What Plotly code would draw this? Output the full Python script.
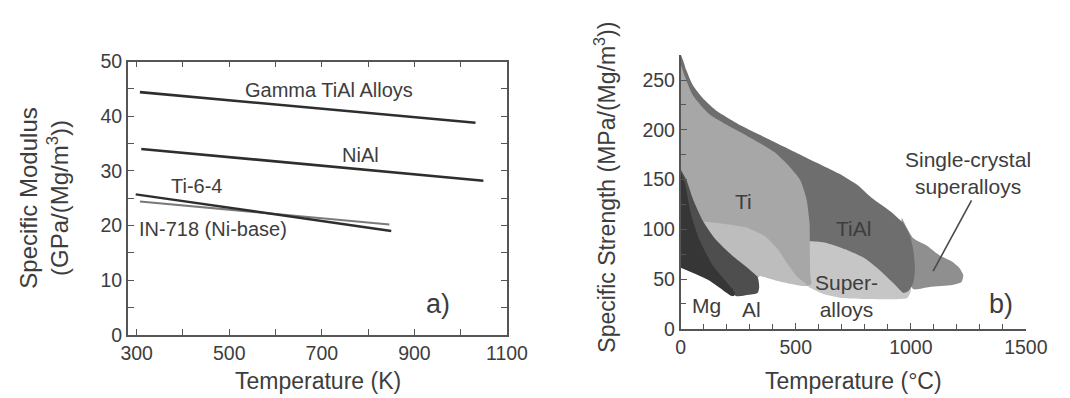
import plotly.graph_objects as go

# ---------------- Panel a data ----------------
temp_gamma = [307, 1032]
mod_gamma = [44.4, 38.8]
temp_nial = [310, 1049]
mod_nial = [34.0, 28.2]
temp_ti64 = [298, 850]
mod_ti64 = [25.7, 19.0]
temp_in718 = [307, 846]
mod_in718 = [24.4, 20.2]

a_xticks = [300, 500, 700, 900, 1100]
a_yticks = [0, 10, 20, 30, 40, 50]

# ---------------- Panel b data (region outlines, °C vs MPa/(Mg/m3)) ----------------
sx_x = [960, 1011, 1067, 1124, 1180, 1212, 1228, 1220, 1180, 1081, 1011, 960]
sx_y = [112, 91, 84, 74, 67.5, 61, 54, 47, 44, 42, 40, 60]

sup_x = [555, 850, 990, 1000, 985, 960, 800, 700, 620, 555]
sup_y = [95, 95, 70, 38, 31, 30, 30, 31, 35, 42]

tial_x = [0, 10, 24, 52, 95, 151, 264, 405, 546, 687, 771, 828, 912, 968, 997, 1011,
          1018, 1010, 990, 968, 926, 870, 799, 715, 630, 567, 300, 0, 0]
tial_y = [275, 270, 260, 245, 232, 220, 204, 188, 172, 156, 144, 132, 118, 106, 93, 79,
          60, 46, 38, 36, 45.5, 58, 71, 80, 86.6, 88, 95, 95, 275]

ti_x = [0, 17, 52, 123, 264, 405, 461, 518, 546, 560, 561, 563, 567, 549, 480, 422,
        345, 300, 200, 0, 0]
ti_y = [265, 254, 235, 216, 197, 178, 166, 150, 131, 106, 77, 55, 45, 43, 46, 49,
        53, 45, 50, 70, 265]

lite_x = [90, 141, 282, 366, 422, 465, 507, 549, 535, 480, 422, 345, 250, 100]
lite_y = [108, 107, 102, 93, 80, 65, 52, 44, 43, 45, 48, 53, 55, 80]

al_x = [0, 24, 52, 95, 151, 222, 292, 334, 341, 334, 290, 240, 150, 0]
al_y = [160, 150, 131, 109, 90, 74, 61, 52, 42, 36, 34, 33, 50, 70]

mg_x = [0, 17, 45, 80, 137, 193, 236, 230, 222, 123, 0]
mg_y = [157, 147, 115, 90, 64.5, 48.7, 36, 33, 33, 48.7, 61.4]

pointer_x = [1264, 1097]
pointer_y = [129, 58]

b_xticks = [0, 500, 1000, 1500]
b_yticks = [0, 50, 100, 150, 200, 250]

FONT = "Liberation Sans, Arial, sans-serif"
TXT = "#3d3d3d"
AX = "#555555"

fig = go.Figure()

# panel a lines
fig.add_trace(go.Scatter(x=temp_gamma, y=mod_gamma, mode="lines",
                         line=dict(color="#2e2e2e", width=2.6), xaxis="x", yaxis="y"))
fig.add_trace(go.Scatter(x=temp_nial, y=mod_nial, mode="lines",
                         line=dict(color="#2e2e2e", width=2.6), xaxis="x", yaxis="y"))
fig.add_trace(go.Scatter(x=temp_in718, y=mod_in718, mode="lines",
                         line=dict(color="#7a7a7a", width=2.0), xaxis="x", yaxis="y"))
fig.add_trace(go.Scatter(x=temp_ti64, y=mod_ti64, mode="lines",
                         line=dict(color="#2e2e2e", width=2.4), xaxis="x", yaxis="y"))

# panel b regions
def region(xs, ys, color, smooth=0.6):
    fig.add_trace(go.Scatter(x=xs, y=ys, mode="lines", fill="toself", fillcolor=color,
                             line=dict(width=0, color=color, shape="spline", smoothing=smooth),
                             xaxis="x2", yaxis="y2", hoverinfo="skip"))

region(sx_x, sx_y, "#8f8f8f")
region(sup_x, sup_y, "#c6c6c6", 0.5)
region(tial_x, tial_y, "#6e6e6e")
region(ti_x, ti_y, "#a7a7a7")
region(lite_x, lite_y, "#bdbdbd")
region(al_x, al_y, "#4e4e4e")
region(mg_x, mg_y, "#363636")

fig.add_trace(go.Scatter(x=pointer_x, y=pointer_y, mode="lines",
                         line=dict(color="#4a4a4a", width=1.6), xaxis="x2", yaxis="y2"))

tickfont = dict(family=FONT, size=19.5, color=TXT)

fig.update_layout(
    width=1070, height=398,
    margin=dict(l=0, r=0, t=0, b=0),
    paper_bgcolor="white", plot_bgcolor="white",
    showlegend=False,
    font=dict(family=FONT, color=TXT),
    xaxis=dict(domain=[116 / 1070, 505.7 / 1070], range=[281, 1100],
               tickvals=a_xticks, ticks="inside", ticklen=6, tickwidth=1.3, tickcolor=AX,
               minor=dict(tickvals=[400, 600, 800, 1000], ticks="inside", ticklen=6,
                          tickcolor=AX, tickwidth=1.3),
               showline=True, linecolor=AX, linewidth=1.6, mirror="ticks",
               showgrid=False, zeroline=False, tickfont=tickfont, anchor="y"),
    yaxis=dict(domain=[1 - 334.3 / 398, 1 - 45 / 398], range=[0, 50],
               tickvals=a_yticks, ticks="inside", ticklen=6, tickwidth=1.3, tickcolor=AX,
               minor=dict(dtick=5, ticks="inside", ticklen=6, tickcolor=AX, tickwidth=1.3),
               showline=True, linecolor=AX, linewidth=1.6, mirror="ticks",
               showgrid=False, zeroline=False, tickfont=tickfont, anchor="x"),
    xaxis2=dict(domain=[684.3 / 1070, 1039 / 1070], range=[0, 1500],
                tickvals=b_xticks, ticks="inside", ticklen=6, tickwidth=1.3, tickcolor=AX,
                minor=dict(dtick=100, ticks="inside", ticklen=5, tickcolor=AX, tickwidth=1.3),
                showline=True, linecolor=AX, linewidth=1.8,
                showgrid=False, zeroline=False, tickfont=tickfont, anchor="y2"),
    yaxis2=dict(domain=[1 - 328 / 398, 1 - 38.3 / 398], range=[0, 275],
                tickvals=b_yticks, ticks="inside", ticklen=6, tickwidth=1.3, tickcolor=AX,
                minor=dict(dtick=25, ticks="inside", ticklen=5, tickcolor=AX, tickwidth=1.3),
                showline=True, linecolor=AX, linewidth=1.8,
                showgrid=False, zeroline=False, tickfont=tickfont, anchor="x2"),
)

def ann(text, x, y, xref, yref, size=20, angle=0, xanchor="center", yanchor="middle"):
    fig.add_annotation(text=text, x=x, y=y, xref=xref, yref=yref, showarrow=False,
                       textangle=angle, xanchor=xanchor, yanchor=yanchor,
                       font=dict(family=FONT, size=size, color=TXT))

# axis titles
ann("Temperature (K)", 311 / 1070, 1 - 383 / 398, "paper", "paper", size=23)
ann("Temperature (°C)", 862 / 1070, 1 - 383 / 398, "paper", "paper", size=23)
ann("Specific Modulus<br>(GPa/(Mg/m<sup>3</sup>))", 30 / 1070, 1 - 190 / 398,
    "paper", "paper", size=24, angle=-90)
ann("Specific Strength (MPa/(Mg/m<sup>3</sup>))", 607 / 1070, 1 - 178 / 398,
    "paper", "paper", size=23, angle=-90)

# panel a labels
ann("Gamma TiAl Alloys", 716, 44.8, "x", "y")
ann("NiAl", 783, 32.9, "x", "y")
ann("Ti-6-4", 430, 27.2, "x", "y")
ann("IN-718 (Ni-base)", 464, 19.4, "x", "y")
ann("a)", 951, 5.7, "x", "y", size=27)

# panel b labels
ann("Ti", 272, 128, "x2", "y2", size=21)
ann("TiAl", 750, 101, "x2", "y2", size=21)
ann("Super-<br>alloys", 722, 33, "x2", "y2", size=21)
ann("Mg", 110, 23, "x2", "y2", size=21)
ann("Al", 307, 19, "x2", "y2", size=21)
ann("Single-crystal<br>superalloys", 1250, 157, "x2", "y2", size=21)
ann("b)", 1391, 25, "x2", "y2", size=27)

fig.write_html("out.html")
